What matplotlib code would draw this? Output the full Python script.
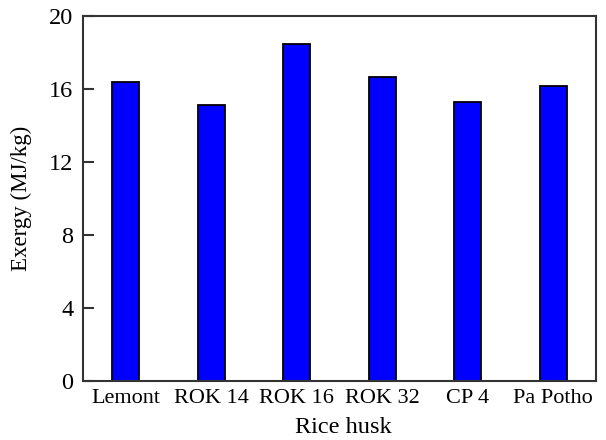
import matplotlib
matplotlib.use("Agg")
import matplotlib.pyplot as plt

categories = ["Lemont", "ROK 14", "ROK 16", "ROK 32", "CP 4", "Pa Potho"]
exergy = [16.37, 15.15, 18.45, 16.64, 15.3, 16.16]
yticks = [0, 4, 8, 12, 16, 20]

plt.rcParams['font.family'] = ['Liberation Serif', 'DejaVu Serif']

fig = plt.figure(figsize=(6.06, 4.4), dpi=100)
ax = fig.add_axes([83/606, 1 - 381/440, (596-83)/606, (381-16)/440])

x = list(range(len(categories)))
ax.bar(x, exergy, width=0.31, color='#0000FF', edgecolor='black', linewidth=1.3, zorder=2)

ax.set_xlim(-0.5, len(categories) - 0.5)
ax.set_ylim(0, 20)
ax.set_yticks(yticks)
ax.set_yticklabels([str(v) for v in yticks])
ax.set_xticks(x)
ax.set_xticklabels(categories)

for s in ax.spines.values():
    s.set_color('#333333')
    s.set_linewidth(1.5)

ax.tick_params(axis='y', direction='in', length=8, width=1.5, color='#333333', labelsize=17.5, pad=7)
ax.tick_params(axis='x', direction='in', length=7, width=1.3, color='black', labelsize=16, pad=6)
for t in ax.get_xticklines():
    t.set_zorder(5)

ax.set_ylabel("Exergy (MJ/kg)", fontsize=16.5, labelpad=12)
ax.set_xlabel("Rice husk", fontsize=17.5, labelpad=6, x=0.508)

fig.savefig("out.png", dpi=100)
